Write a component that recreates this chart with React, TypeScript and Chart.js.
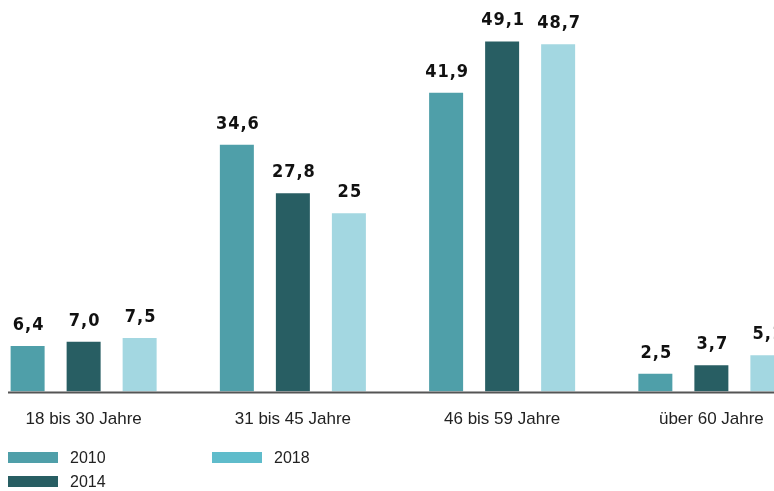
import React, { useEffect, useRef } from "react";
import { Chart, registerables } from "chart.js";

Chart.register(...registerables);

const categories = ["18 bis 30 Jahre", "31 bis 45 Jahre", "46 bis 59 Jahre", "über 60 Jahre"];
const seriesNames = ["2010", "2014", "2018"];
const values2010 = [6.4, 34.6, 41.9, 2.5];
const values2014 = [7.0, 27.8, 49.1, 3.7];
const values2018 = [7.5, 25, 48.7, 5.1];
const labels2010 = ["6,4", "34,6", "41,9", "2,5"];
const labels2014 = ["7,0", "27,8", "49,1", "3,7"];
const labels2018 = ["7,5", "25", "48,7", "5,1"];

const barColors = ["#4f9fa9", "#285e63", "#a3d7e1"];
const legendColors = ["#4f9fa9", "#285e63", "#5fbccb"];

const SHIFT = 21;

const valueLabelPlugin = {
  id: "valueLabels",
  afterDatasetsDraw(chart: any) {
    const ctx = chart.ctx;
    const area = chart.chartArea;
    ctx.save();
    ctx.strokeStyle = "#555555";
    ctx.lineWidth = 2;
    ctx.beginPath();
    ctx.moveTo(8 + SHIFT, area.bottom + 1);
    ctx.lineTo(chart.width, area.bottom + 1);
    ctx.stroke();
    const allLabels = [labels2010, labels2014, labels2018];
    ctx.fillStyle = "#111111";
    ctx.font = "bold 18px 'DejaVu Sans Condensed', 'DejaVu Sans', sans-serif";
    (ctx as any).letterSpacing = "1px";
    ctx.textAlign = "center";
    ctx.textBaseline = "alphabetic";
    chart.data.datasets.forEach((ds: any, i: number) => {
      const meta = chart.getDatasetMeta(i);
      meta.data.forEach((el: any, j: number) => {
        ctx.fillText(allLabels[i][j], el.x + 1, el.y - 16);
      });
    });
    ctx.restore();
  },
};

export default function App() {
  const canvasRef = useRef<HTMLCanvasElement | null>(null);

  useEffect(() => {
    if (!canvasRef.current) return;
    const chart = new Chart(canvasRef.current, {
      type: "bar",
      data: {
        labels: categories,
        datasets: [values2010, values2014, values2018].map((vals, i) => ({
          label: seriesNames[i],
          data: vals,
          backgroundColor: barColors[i],
          borderWidth: 0,
          barPercentage: 0.607,
          categoryPercentage: 0.803,
        })),
      },
      options: {
        animation: false,
        responsive: true,
        maintainAspectRatio: false,
        layout: { padding: { top: 35, bottom: 43, left: 0, right: 0 } },
        plugins: {
          legend: { display: false },
          tooltip: { enabled: false },
          title: { display: false },
        },
        scales: {
          x: {
            grid: { display: false, drawTicks: false },
            border: { display: false },
            ticks: {
              color: "#222222",
              font: { family: "'Liberation Sans', Arial, sans-serif", size: 17 },
              padding: 18,
              maxRotation: 0,
            },
          },
          y: {
            display: false,
            min: 0,
            max: 50,
          },
        },
      },
      plugins: [valueLabelPlugin],
    });
    return () => chart.destroy();
  }, []);

  const legendPos = [
    { left: 8, top: 452 },
    { left: 8, top: 476 },
    { left: 212, top: 452 },
  ];

  return (
    <div
      style={{
        position: "fixed",
        left: 0,
        top: 0,
        width: 774,
        height: 491,
        overflow: "hidden",
        background: "#ffffff",
      }}
    >
      <div style={{ position: "absolute", left: -SHIFT, top: 0, width: 837, height: 491 }}>
        <canvas ref={canvasRef} />
      </div>
      {seriesNames.map((name, i) => (
        <div
          key={name}
          style={{
            position: "absolute",
            left: legendPos[i].left,
            top: legendPos[i].top,
            display: "flex",
            alignItems: "center",
            fontFamily: "'Liberation Sans', Arial, sans-serif",
            fontSize: 16,
            color: "#222222",
            height: 11,
          }}
        >
          <span style={{ display: "inline-block", width: 50, height: 11, background: legendColors[i], marginRight: 12 }} />
          <span style={{ lineHeight: "11px" }}>{name}</span>
        </div>
      ))}
    </div>
  );
}
